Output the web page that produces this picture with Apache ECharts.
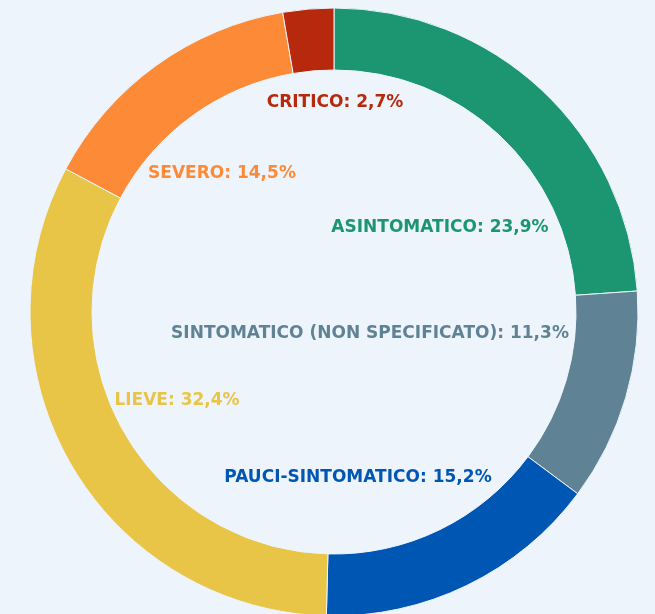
<!DOCTYPE html>
<html>
<head>
<meta charset="utf-8">
<script src="https://cdn.jsdelivr.net/npm/echarts@6/dist/echarts.min.js"></script>
<style>
    html, body { margin: 0; padding: 0; background: #eef4fb; }
    #chart { width: 655px; height: 614px; }
</style>
</head>
<body>
<div id="chart"></div>
<script>
    // dati: stato clinico dei casi (%)
    var categories = ['ASINTOMATICO', 'SINTOMATICO (NON SPECIFICATO)', 'PAUCI-SINTOMATICO', 'LIEVE', 'SEVERO', 'CRITICO'];
    var values = [23.9, 11.3, 15.2, 32.4, 14.5, 2.7];
    var colors = ['#1b9670', '#5f8394', '#0057b3', '#e8c547', '#fd8a37', '#b6290c'];

    // posizione delle etichette rispetto al centro (px)
    var labelOffsets = [[106, -84], [36, 22], [24, 166], [-157, 89], [-112, -138], [1, -209]];

    var CX = 334, CY = 312;

    var chart = echarts.init(document.getElementById('chart'));

    var data = categories.map(function (name, i) {
        return {
            name: name,
            value: values[i],
            itemStyle: { color: colors[i] },
            label: { color: colors[i] }
        };
    });

    chart.setOption({
        backgroundColor: '#eef4fb',
        animation: false,
        series: [{
            type: 'pie',
            center: [CX, CY],
            radius: [242, 304],
            startAngle: 90,
            clockwise: true,
            data: data,
            itemStyle: { borderColor: '#eef4fb', borderWidth: 1 },
            label: {
                show: true,
                position: 'inside',
                fontFamily: 'DejaVu Sans',
                fontWeight: 'bold',
                fontSize: 17,
                formatter: function (p) {
                    return p.name + ': ' + String(p.value).replace('.', ',') + '%';
                }
            },
            labelLine: { show: false },
            labelLayout: function (params) {
                var o = labelOffsets[params.dataIndex];
                return { x: CX + o[0], y: CY + o[1], align: 'center', verticalAlign: 'middle' };
            },
            emphasis: { disabled: true }
        }]
    });
</script>
</body>
</html>
